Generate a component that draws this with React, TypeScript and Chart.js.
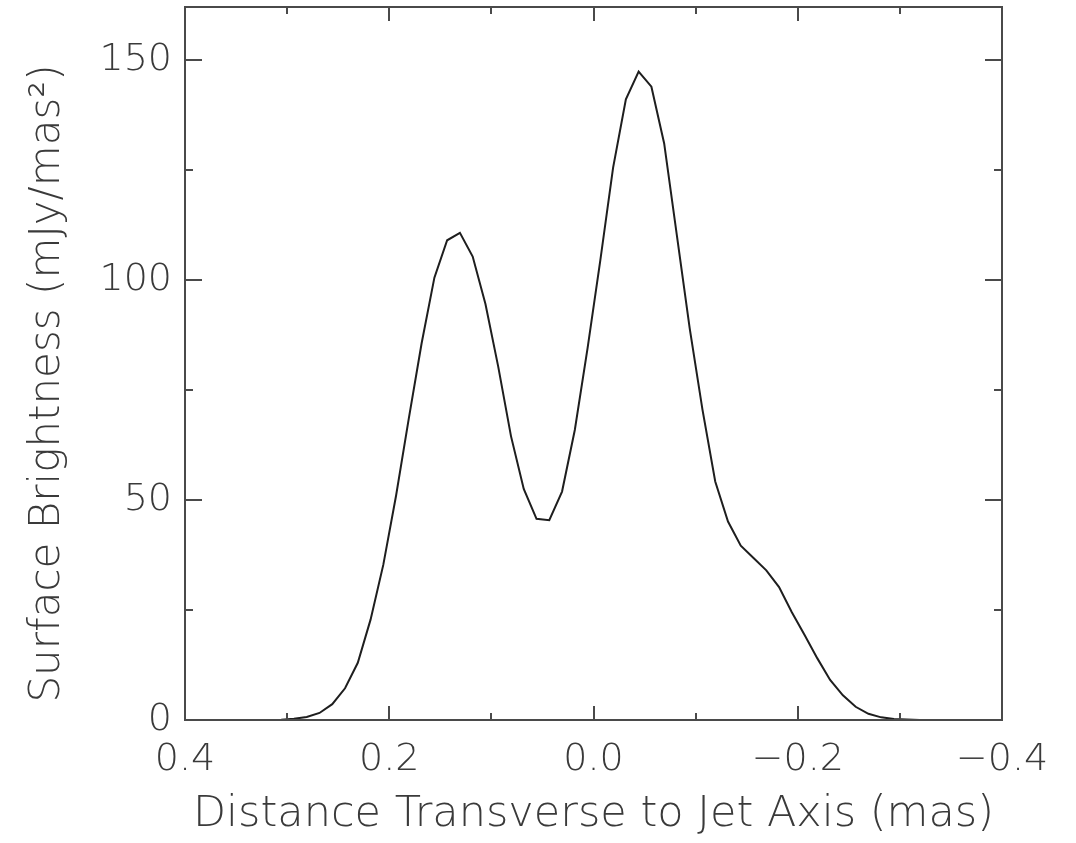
import React, { useEffect, useRef } from "react";
import { Chart, registerables } from "chart.js";

Chart.register(...registerables);

// Distance transverse to jet axis (mas)
const xValues = [
  0.3933, 0.3808, 0.3683, 0.3558, 0.3433, 0.3308, 0.3183, 0.3058, 0.2933, 0.2808,
  0.2683, 0.2558, 0.2433, 0.2308, 0.2183, 0.2058, 0.1933, 0.1808, 0.1683, 0.1558,
  0.1433, 0.1308, 0.1183, 0.1058, 0.0933, 0.0808, 0.0683, 0.0558, 0.0433, 0.0308,
  0.0183, 0.0058, -0.0067, -0.0192, -0.0317, -0.0442, -0.0567, -0.0692, -0.0817, -0.0942,
  -0.1067, -0.1192, -0.1317, -0.1442, -0.1567, -0.1692, -0.1817, -0.1942, -0.2067, -0.2192,
  -0.2317, -0.2442, -0.2567, -0.2692, -0.2817, -0.2942, -0.3067, -0.3192, -0.3317, -0.3442,
  -0.3567, -0.3692, -0.3817, -0.3942,
];

// Surface brightness (mJy/mas^2)
const yValues = [
  0, 0, 0, 0, 0, 0, 0, 0.05, 0.3, 0.7,
  1.6, 3.6, 7.2, 13.0, 22.8, 35.3, 51.0, 68.6, 85.6, 100.5,
  109.0, 110.7, 105.3, 94.5, 80.3, 64.5, 52.5, 45.7, 45.4, 51.9,
  65.9, 84.5, 104.5, 125.5, 141.0, 147.3, 143.9, 131.0, 110.0, 89.0,
  70.5, 54.2, 45.1, 39.6, 36.8, 34.0, 30.2, 24.5, 19.3, 14.0,
  9.1, 5.6, 3.0, 1.4, 0.6, 0.25, 0.1, 0, 0, 0,
  0, 0, 0, 0,
];

const xTickValues = [0.4, 0.2, 0.0, -0.2, -0.4];
const xTickLabels = ["0.4", "0.2", "0.0", "\u22120.2", "\u22120.4"];
const xMinorTicks = [0.3, 0.1, -0.1, -0.3];
const yTickValues = [0, 50, 100, 150];
const yTickLabels = ["0", "50", "100", "150"];
const yMinorTicks = [25, 75, 125];

const xTitle = "Distance Transverse to Jet Axis (mas)";
const yTitle = "Surface Brightness (mJy/mas\u00B2)   ";

const FONT_FAMILY = "'DejaVu Sans', sans-serif";
const TEXT_COLOR = "#3a3a3a";
const FRAME_COLOR = "#4a4a4a";

const frameTicksPlugin = {
  id: "frameTicks",
  afterDatasetsDraw(chart: any) {
    const { ctx, chartArea } = chart;
    const xs = chart.scales.x;
    const ys = chart.scales.y;
    const { left, right, top, bottom } = chartArea;
    ctx.save();
    ctx.strokeStyle = FRAME_COLOR;
    ctx.lineWidth = 2;
    ctx.lineCap = "butt";
    ctx.strokeRect(left, top, right - left, bottom - top);
    const drawX = (vals: number[], len: number) => {
      vals.forEach((v) => {
        const px = Math.round(xs.getPixelForValue(v));
        ctx.beginPath();
        ctx.moveTo(px, bottom);
        ctx.lineTo(px, bottom - len);
        ctx.moveTo(px, top);
        ctx.lineTo(px, top + len);
        ctx.stroke();
      });
    };
    const drawY = (vals: number[], len: number) => {
      vals.forEach((v) => {
        const py = Math.round(ys.getPixelForValue(v));
        ctx.beginPath();
        ctx.moveTo(left, py);
        ctx.lineTo(left + len, py);
        ctx.moveTo(right, py);
        ctx.lineTo(right - len, py);
        ctx.stroke();
      });
    };
    drawX(xTickValues, 14);
    drawX(xMinorTicks, 7);
    drawY(yTickValues, 17);
    drawY(yMinorTicks, 8);
    ctx.restore();
  },
};

export default function App() {
  const canvasRef = useRef<HTMLCanvasElement | null>(null);

  useEffect(() => {
    const canvas = canvasRef.current;
    if (!canvas) return;
    const points = xValues.map((x, i) => ({ x, y: yValues[i] }));
    const chart = new Chart(canvas, {
      type: "line",
      data: {
        datasets: [
          {
            data: points,
            borderColor: "#1e1e1e",
            borderWidth: 2,
            pointRadius: 0,
            tension: 0,
            fill: false,
          },
        ],
      },
      options: {
        animation: false,
        responsive: false,
        maintainAspectRatio: false,
        layout: { padding: { left: 0, top: 7, right: 74, bottom: 0 } },
        plugins: {
          legend: { display: false },
          tooltip: { enabled: false },
        },
        scales: {
          x: {
            type: "linear",
            position: "bottom",
            min: -0.4,
            max: 0.4,
            reverse: true,
            grid: { display: false, drawTicks: false },
            border: { display: false },
            afterBuildTicks: (scale: any) => {
              scale.ticks = xTickValues.map((v) => ({ value: v }));
            },
            afterFit: (scale: any) => {
              scale.height = 123;
              scale.paddingLeft = 0;
              scale.paddingRight = 0;
            },
            ticks: {
              autoSkip: false,
              maxRotation: 0,
              padding: 17,
              color: TEXT_COLOR,
              font: { family: FONT_FAMILY, size: 38, weight: "200" as any },
              callback: (value: any) => {
                const idx = xTickValues.findIndex((t) => Math.abs(t - Number(value)) < 1e-9);
                return idx >= 0 ? xTickLabels[idx] : "";
              },
            },
            title: {
              display: true,
              text: xTitle,
              color: TEXT_COLOR,
              font: { family: FONT_FAMILY, size: 43, weight: "200" as any },
              padding: { top: 0, bottom: 2 },
            },
          },
          y: {
            type: "linear",
            position: "left",
            min: 0,
            max: 162,
            grid: { display: false, drawTicks: false },
            border: { display: false },
            afterBuildTicks: (scale: any) => {
              scale.ticks = yTickValues.map((v) => ({ value: v }));
            },
            afterFit: (scale: any) => {
              scale.width = 185;
              scale.paddingTop = 0;
              scale.paddingBottom = 0;
            },
            ticks: {
              autoSkip: false,
              padding: 13,
              color: TEXT_COLOR,
              font: { family: FONT_FAMILY, size: 38, weight: "200" as any },
              callback: (value: any) => {
                const idx = yTickValues.findIndex((t) => Math.abs(t - Number(value)) < 1e-9);
                return idx >= 0 ? yTickLabels[idx] : "";
              },
            },
            title: {
              display: true,
              text: yTitle,
              color: TEXT_COLOR,
              font: { family: FONT_FAMILY, size: 42, weight: "200" as any },
              padding: { top: 23, bottom: 0 },
            },
          },
        },
      },
      plugins: [frameTicksPlugin],
    });
    return () => chart.destroy();
  }, []);

  return (
    <div style={{ position: "absolute", left: 0, top: 0, width: 1076, height: 843, background: "#ffffff" }}>
      <canvas ref={canvasRef} width={1076} height={843} style={{ display: "block" }} />
    </div>
  );
}
